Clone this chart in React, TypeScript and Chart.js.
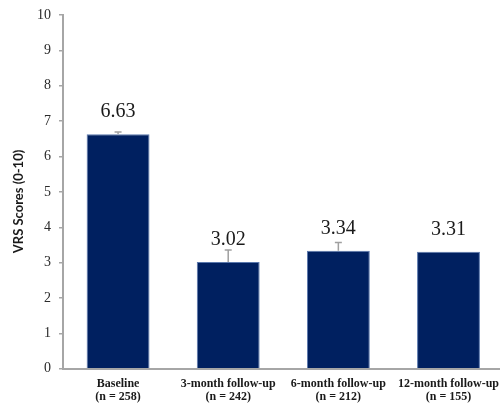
import React, { useEffect, useRef } from "react";
import { Chart, registerables } from "chart.js";

Chart.register(...registerables);

const categories: string[][] = [
  ["Baseline", "(n = 258)"],
  ["3-month follow-up", "(n = 242)"],
  ["6-month follow-up", "(n = 212)"],
  ["12-month follow-up", "(n = 155)"],
];
const scores: number[] = [6.63, 3.02, 3.34, 3.31];
const errors: number[] = [0.06, 0.34, 0.23, 0];
const valueLabels: string[] = ["6.63", "3.02", "3.34", "3.31"];
const yTicks: number[] = [0, 1, 2, 3, 4, 5, 6, 7, 8, 9, 10];
const yTitle = "VRS Scores (0-10)";

const errorBarPlugin = {
  id: "errorBars",
  afterDatasetsDraw(chart: any) {
    const ctx = chart.ctx;
    const meta = chart.getDatasetMeta(0);
    const yScale = chart.scales.y;
    ctx.save();
    ctx.strokeStyle = "#a0a0a0";
    ctx.lineWidth = 1.5;
    meta.data.forEach((bar: any, i: number) => {
      const e = errors[i];
      if (!e) return;
      const yTop = yScale.getPixelForValue(scores[i] + e);
      ctx.beginPath();
      ctx.moveTo(bar.x, bar.y);
      ctx.lineTo(bar.x, yTop);
      ctx.moveTo(bar.x - 3.5, yTop);
      ctx.lineTo(bar.x + 3.5, yTop);
      ctx.stroke();
    });
    ctx.fillStyle = "#1a1a1a";
    ctx.font = "20px 'Liberation Serif'";
    ctx.textAlign = "center";
    ctx.textBaseline = "middle";
    meta.data.forEach((bar: any, i: number) => {
      ctx.fillText(valueLabels[i], bar.x, bar.y - 22);
    });
    // y-axis title, centred on the canvas height
    ctx.save();
    ctx.translate(19, chart.height / 2);
    ctx.rotate(-Math.PI / 2);
    ctx.font = "bold 13px Lato";
    ctx.fillStyle = "#1a1a1a";
    ctx.textAlign = "center";
    ctx.textBaseline = "middle";
    ctx.fillText(yTitle, 0, 0);
    ctx.restore();
    ctx.restore();
  },
};

export default function App() {
  const ref = useRef<HTMLCanvasElement>(null);
  useEffect(() => {
    if (!ref.current) return;
    const chart = new Chart(ref.current, {
      type: "bar",
      data: {
        labels: categories,
        datasets: [
          {
            data: scores,
            backgroundColor: "#002060",
            borderColor: "#5a78ad",
            borderWidth: 1,
            categoryPercentage: 1,
            barPercentage: 0.571,
          },
        ],
      },
      options: {
        animation: false,
        responsive: true,
        maintainAspectRatio: false,
        layout: { padding: { left: 29, top: 0, right: 0, bottom: -9 } },
        plugins: {
          legend: { display: false },
          tooltip: { enabled: false },
        },
        scales: {
          x: {
            grid: { display: false, drawTicks: false },
            border: { display: true, color: "#a6a6a6", width: 2 },
            ticks: {
              color: "#1a1a1a",
              font: { family: "'Liberation Serif'", size: 12, weight: "bold", lineHeight: 1.05 },
              padding: 9,
              maxRotation: 0,
              minRotation: 0,
              autoSkip: false,
            },
          },
          y: {
            min: 0,
            max: 10,
            afterBuildTicks: (axis: any) => {
              axis.ticks = yTicks.map((v) => ({ value: v }));
            },
            grid: { display: true, drawOnChartArea: false, tickLength: 4, color: "#a6a6a6", lineWidth: 1.5 },
            border: { display: true, color: "#a6a6a6", width: 2 },
            ticks: {
              color: "#2a2a2a",
              font: { family: "'Liberation Serif'", size: 14, lineHeight: 1 },
              padding: 8,
            },
          },
        },
      },
      plugins: [errorBarPlugin],
    });
    return () => chart.destroy();
  }, []);
  return (
    <div style={{ position: "fixed", left: 0, top: 0, width: 500, height: 403, overflow: "hidden", background: "#fff" }}>
      <div style={{ width: 508, height: 403, position: "relative" }}>
        <canvas ref={ref} />
      </div>
    </div>
  );
}
